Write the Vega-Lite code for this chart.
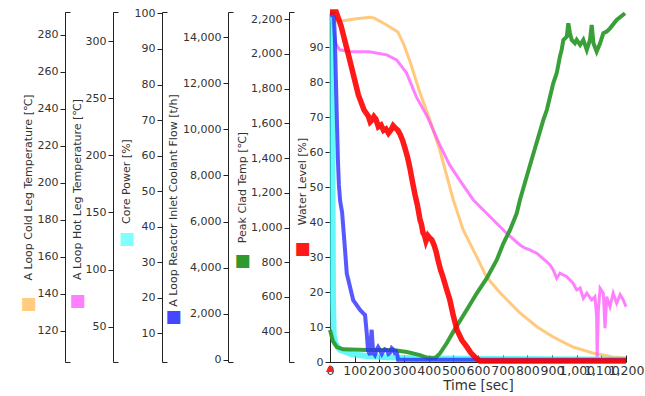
{
  "$schema": "https://vega.github.io/schema/vega-lite/v6.json",
  "width": 296,
  "height": 350,
  "autosize": {"type": "none"},
  "padding": {"left": 330, "top": 12, "right": 19, "bottom": 34},
  "background": "white",
  "config": {
    "font": "DejaVu Sans",
    "view": {"stroke": null},
    "axis": {
      "labelFont": "DejaVu Sans", "titleFont": "DejaVu Sans",
      "labelFontSize": 11, "titleFontSize": 11, "titleFontWeight": "normal",
      "labelColor": "#333", "titleColor": "#333",
      "domainColor": "#222", "tickColor": "#222",
      "grid": false, "tickSize": 5, "labelPadding": 2
    }
  },
  "datasets": {
    "cold": [
      {"t": 0, "v": 291}, {"t": 10, "v": 290.5}, {"t": 30, "v": 287.5}, {"t": 60, "v": 287.8},
      {"t": 100, "v": 288.6}, {"t": 160, "v": 289.5}, {"t": 180, "v": 289.1}, {"t": 230, "v": 285.4},
      {"t": 275, "v": 281.6}, {"t": 300, "v": 274.6}, {"t": 325, "v": 265.4}, {"t": 365, "v": 248.6},
      {"t": 405, "v": 234}, {"t": 445, "v": 217.8}, {"t": 500, "v": 190.8}, {"t": 540, "v": 174.6},
      {"t": 595, "v": 160}, {"t": 635, "v": 149.1}, {"t": 690, "v": 140.5}, {"t": 770, "v": 129.7},
      {"t": 840, "v": 122.1}, {"t": 905, "v": 116.7}, {"t": 985, "v": 111.3}, {"t": 1065, "v": 108.1},
      {"t": 1145, "v": 105.9}, {"t": 1200, "v": 105.4}
    ],
    "hot": [
      {"t": 0, "v": 320}, {"t": 8, "v": 318}, {"t": 25, "v": 297}, {"t": 40, "v": 292.3},
      {"t": 80, "v": 290.6}, {"t": 160, "v": 290.6}, {"t": 230, "v": 287.9}, {"t": 270, "v": 283.5},
      {"t": 310, "v": 272.2}, {"t": 350, "v": 251.1}, {"t": 395, "v": 233.6}, {"t": 445, "v": 209.1},
      {"t": 485, "v": 191.6}, {"t": 525, "v": 178.5}, {"t": 581, "v": 160.9}, {"t": 662, "v": 143.4},
      {"t": 716, "v": 131.8}, {"t": 770, "v": 121.5}, {"t": 791, "v": 118.7}, {"t": 804, "v": 117.8},
      {"t": 838, "v": 114.3}, {"t": 878, "v": 106.9}, {"t": 892, "v": 104}, {"t": 905, "v": 99.7},
      {"t": 919, "v": 92.4}, {"t": 932, "v": 96.8}, {"t": 960, "v": 93.8}, {"t": 986, "v": 88},
      {"t": 1000, "v": 82.1}, {"t": 1014, "v": 83.9}, {"t": 1027, "v": 74.9}, {"t": 1041, "v": 79.3},
      {"t": 1061, "v": 73.4}, {"t": 1074, "v": 76.3}, {"t": 1081, "v": 58.8}, {"t": 1083, "v": 23.5},
      {"t": 1088, "v": 64.6}, {"t": 1095, "v": 83.6}, {"t": 1108, "v": 79.3}, {"t": 1115, "v": 48.6},
      {"t": 1122, "v": 76.3}, {"t": 1135, "v": 67.5}, {"t": 1148, "v": 79.3}, {"t": 1162, "v": 70.5},
      {"t": 1176, "v": 78}, {"t": 1189, "v": 73.4}, {"t": 1200, "v": 67.5}
    ],
    "core": [
      {"t": 0, "v": 100}, {"t": 8, "v": 100}, {"t": 10, "v": 60}, {"t": 12, "v": 20},
      {"t": 15, "v": 9.5}, {"t": 21, "v": 7.3}, {"t": 40, "v": 5.4}, {"t": 90, "v": 4.1},
      {"t": 150, "v": 3.6}, {"t": 230, "v": 3.3}, {"t": 300, "v": 3.1}, {"t": 450, "v": 2.9},
      {"t": 700, "v": 2.8}, {"t": 1200, "v": 2.6}
    ],
    "flow": [
      {"t": 0, "v": 15000}, {"t": 4, "v": 15000}, {"t": 16, "v": 14900}, {"t": 20, "v": 13900},
      {"t": 24, "v": 12100}, {"t": 28, "v": 10400}, {"t": 32, "v": 8700}, {"t": 36, "v": 7600},
      {"t": 41, "v": 6900}, {"t": 49, "v": 6400}, {"t": 61, "v": 4760}, {"t": 68, "v": 3750},
      {"t": 94, "v": 2590}, {"t": 122, "v": 2160}, {"t": 135, "v": 2015}, {"t": 142, "v": 1940},
      {"t": 149, "v": 1150}, {"t": 154, "v": 420}, {"t": 162, "v": 200}, {"t": 166, "v": 900},
      {"t": 169, "v": 1300}, {"t": 172, "v": 800}, {"t": 175, "v": 300}, {"t": 182, "v": 200},
      {"t": 190, "v": 450}, {"t": 195, "v": 550}, {"t": 203, "v": 400}, {"t": 210, "v": 250},
      {"t": 215, "v": 350}, {"t": 222, "v": 450}, {"t": 231, "v": 400}, {"t": 237, "v": 250},
      {"t": 243, "v": 300}, {"t": 250, "v": 500}, {"t": 255, "v": 450}, {"t": 262, "v": 300},
      {"t": 268, "v": 350}, {"t": 272, "v": 250}, {"t": 276, "v": 0}, {"t": 1200, "v": 0}
    ],
    "clad": [
      {"t": 0, "v": 410}, {"t": 12, "v": 345}, {"t": 28, "v": 311}, {"t": 53, "v": 298},
      {"t": 150, "v": 294}, {"t": 255, "v": 294}, {"t": 312, "v": 283}, {"t": 365, "v": 265},
      {"t": 397, "v": 248}, {"t": 426, "v": 247}, {"t": 446, "v": 275}, {"t": 473, "v": 333},
      {"t": 500, "v": 400}, {"t": 554, "v": 525}, {"t": 595, "v": 621}, {"t": 635, "v": 707},
      {"t": 676, "v": 813}, {"t": 703, "v": 909}, {"t": 730, "v": 986}, {"t": 757, "v": 1082},
      {"t": 770, "v": 1159}, {"t": 811, "v": 1360}, {"t": 865, "v": 1620}, {"t": 879, "v": 1677},
      {"t": 905, "v": 1831}, {"t": 919, "v": 1889}, {"t": 932, "v": 1985}, {"t": 939, "v": 2023},
      {"t": 946, "v": 2081}, {"t": 960, "v": 2100}, {"t": 966, "v": 2177}, {"t": 973, "v": 2120},
      {"t": 980, "v": 2081}, {"t": 993, "v": 2062}, {"t": 1000, "v": 2081}, {"t": 1014, "v": 2052},
      {"t": 1027, "v": 2081}, {"t": 1041, "v": 2023}, {"t": 1054, "v": 2081}, {"t": 1061, "v": 2167},
      {"t": 1068, "v": 2062}, {"t": 1081, "v": 2014}, {"t": 1095, "v": 2062}, {"t": 1108, "v": 2120},
      {"t": 1122, "v": 2129}, {"t": 1135, "v": 2148}, {"t": 1162, "v": 2196}, {"t": 1196, "v": 2235}
    ],
    "water": [
      {"t": 0, "v": 100}, {"t": 25, "v": 100}, {"t": 45, "v": 96}, {"t": 80, "v": 86.3},
      {"t": 115, "v": 76.3}, {"t": 138, "v": 72}, {"t": 155, "v": 70.3}, {"t": 163, "v": 68.6},
      {"t": 170, "v": 69.1}, {"t": 178, "v": 70.1}, {"t": 186, "v": 69.4}, {"t": 196, "v": 67.2},
      {"t": 207, "v": 67.7}, {"t": 217, "v": 66.2}, {"t": 227, "v": 66.6}, {"t": 237, "v": 65.4},
      {"t": 247, "v": 66.3}, {"t": 256, "v": 67.5}, {"t": 264, "v": 66.9}, {"t": 275, "v": 66.2},
      {"t": 284, "v": 65.1}, {"t": 294, "v": 63.4}, {"t": 304, "v": 61.1}, {"t": 314, "v": 58.6},
      {"t": 324, "v": 55.4}, {"t": 335, "v": 51.2}, {"t": 345, "v": 47.7}, {"t": 355, "v": 44.6},
      {"t": 365, "v": 40.6}, {"t": 371, "v": 39.3}, {"t": 377, "v": 36.9}, {"t": 383, "v": 36.2},
      {"t": 389, "v": 34.6}, {"t": 397, "v": 36.1}, {"t": 405, "v": 35.4}, {"t": 413, "v": 34.9},
      {"t": 422, "v": 33.4}, {"t": 430, "v": 31.6}, {"t": 438, "v": 29.1}, {"t": 448, "v": 26.4},
      {"t": 458, "v": 24.3}, {"t": 472, "v": 20.9}, {"t": 486, "v": 17.7}, {"t": 500, "v": 13.2},
      {"t": 515, "v": 9.1}, {"t": 535, "v": 6.2}, {"t": 555, "v": 4.3}, {"t": 570, "v": 2.7},
      {"t": 588, "v": 1.4}, {"t": 608, "v": 0.3}, {"t": 1200, "v": 0.3}
    ],
    "marker": [{"t": 0, "v": -1.8}]
  },
  "encoding": {
    "x": {
      "field": "t", "type": "quantitative",
      "scale": {"domain": [0, 1200], "nice": false},
      "axis": {
        "title": "Time [sec]", "values": [0, 100, 200, 300, 400, 500, 600, 700, 800, 900, 1000, 1100, 1200],
        "format": ",.0f", "labelOverlap": false, "labelFlush": false,
        "tickSize": -7, "labelPadding": 9, "labelFontSize": 12.5, "titleFontSize": 13.5, "titlePadding": 2
      }
    }
  },
  "layer": [
    {
      "data": {"name": "cold"},
      "mark": {"type": "line", "color": "#FFB347", "opacity": 0.7, "strokeWidth": 3},
      "encoding": {"y": {"field": "v", "type": "quantitative", "scale": {"domain": [103.2, 292.4], "nice": false, "zero": false},
        "axis": {"orient": "left", "offset": 265, "values": [120, 140, 160, 180, 200, 220, 240, 260, 280],
          "title": "A Loop Cold Leg Temperature [℃]", "titleX": -37, "titleY": 175, "titleAngle": 270, "titleBaseline": "middle", "titleAlign": "center"}}}
    },
    {
      "data": {"name": "cold"},
      "mark": {"type": "line", "opacity": 0},
      "encoding": {"y": {"field": "v", "type": "quantitative", "scale": {"domain": [103.2, 292.4], "nice": false, "zero": false},
        "axis": {"orient": "left", "offset": 265, "domain": false, "labels": false, "values": [103.2, 292.4], "tickSize": -5,
          "title": "■", "titleColor": "#FFCC80", "titleFontSize": 17, "titleX": -37, "titleY": 291, "titleAngle": 0, "titleBaseline": "middle", "titleAlign": "center"}}}
    },
    {
      "data": {"name": "hot"},
      "mark": {"type": "line", "color": "#FF55FF", "opacity": 0.75, "strokeWidth": 3},
      "encoding": {"y": {"field": "v", "type": "quantitative", "scale": {"domain": [19.1, 325.4], "nice": false, "zero": false},
        "axis": {"orient": "left", "offset": 217, "values": [50, 100, 150, 200, 250, 300],
          "title": "A Loop Hot Leg Temperature [℃]", "titleX": -36, "titleY": 177, "titleAngle": 270, "titleBaseline": "middle", "titleAlign": "center"}}}
    },
    {
      "data": {"name": "hot"},
      "mark": {"type": "line", "opacity": 0},
      "encoding": {"y": {"field": "v", "type": "quantitative", "scale": {"domain": [19.1, 325.4], "nice": false, "zero": false},
        "axis": {"orient": "left", "offset": 217, "domain": false, "labels": false, "values": [19.1, 325.4], "tickSize": -5,
          "title": "■", "titleColor": "#FF80FF", "titleFontSize": 17, "titleX": -36, "titleY": 288, "titleAngle": 0, "titleBaseline": "middle", "titleAlign": "center"}}}
    },
    {
      "data": {"name": "core"},
      "mark": {"type": "line", "color": "#33F5F5", "opacity": 0.75, "strokeWidth": 6},
      "encoding": {"y": {"field": "v", "type": "quantitative", "scale": {"domain": [1.94, 100.4], "nice": false, "zero": false},
        "axis": {"orient": "left", "offset": 168, "values": [10, 20, 30, 40, 50, 60, 70, 80, 90, 100],
          "title": "Core Power [%]", "titleX": -36, "titleY": 169, "titleAngle": 270, "titleBaseline": "middle", "titleAlign": "center"}}}
    },
    {
      "data": {"name": "core"},
      "mark": {"type": "line", "opacity": 0},
      "encoding": {"y": {"field": "v", "type": "quantitative", "scale": {"domain": [1.94, 100.4], "nice": false, "zero": false},
        "axis": {"orient": "left", "offset": 168, "domain": false, "labels": false, "values": [1.94, 100.4], "tickSize": -5,
          "title": "■", "titleColor": "#80FFFF", "titleFontSize": 17, "titleX": -36, "titleY": 226, "titleAngle": 0, "titleBaseline": "middle", "titleAlign": "center"}}}
    },
    {
      "data": {"name": "clad"},
      "mark": {"type": "line", "color": "#2E9B2E", "opacity": 0.95, "strokeWidth": 4},
      "encoding": {"y": {"field": "v", "type": "quantitative", "scale": {"domain": [225, 2242], "nice": false, "zero": false},
        "axis": {"orient": "left", "offset": 41, "format": ",.0f", "values": [400, 600, 800, 1000, 1200, 1400, 1600, 1800, 2000, 2200],
          "title": "Peak Clad Temp [℃]", "titleX": -47, "titleY": 175, "titleAngle": 270, "titleBaseline": "middle", "titleAlign": "center"}}}
    },
    {
      "data": {"name": "clad"},
      "mark": {"type": "line", "opacity": 0},
      "encoding": {"y": {"field": "v", "type": "quantitative", "scale": {"domain": [225, 2242], "nice": false, "zero": false},
        "axis": {"orient": "left", "offset": 41, "domain": false, "labels": false, "values": [225, 2242], "tickSize": -5,
          "title": "■", "titleColor": "#2E992E", "titleFontSize": 17, "titleX": -47, "titleY": 248, "titleAngle": 0, "titleBaseline": "middle", "titleAlign": "center"}}}
    },
    {
      "data": {"name": "flow"},
      "mark": {"type": "line", "color": "#2E2EFF", "opacity": 0.8, "strokeWidth": 4},
      "encoding": {"y": {"field": "v", "type": "quantitative", "scale": {"domain": [-100, 15100], "nice": false, "zero": false},
        "axis": {"orient": "left", "offset": 102, "format": ",.0f", "values": [0, 2000, 4000, 6000, 8000, 10000, 12000, 14000],
          "title": "A Loop Reactor Inlet Coolant Flow [t/h]", "titleX": -55, "titleY": 188, "titleAngle": 270, "titleBaseline": "middle", "titleAlign": "center"}}}
    },
    {
      "data": {"name": "flow"},
      "mark": {"type": "line", "opacity": 0},
      "encoding": {"y": {"field": "v", "type": "quantitative", "scale": {"domain": [-100, 15100], "nice": false, "zero": false},
        "axis": {"orient": "left", "offset": 102, "domain": false, "labels": false, "values": [-100, 15100], "tickSize": -5,
          "title": "■", "titleColor": "#4646FF", "titleFontSize": 17, "titleX": -55, "titleY": 304, "titleAngle": 0, "titleBaseline": "middle", "titleAlign": "center"}}}
    },
    {
      "data": {"name": "water"},
      "mark": {"type": "line", "color": "#FF0000", "opacity": 0.9, "strokeWidth": 5.5},
      "encoding": {"y": {"field": "v", "type": "quantitative", "scale": {"domain": [0, 100], "nice": false, "zero": false},
        "axis": {"orient": "left", "offset": 0, "values": [0, 10, 20, 30, 40, 50, 60, 70, 80, 90],
          "title": "Water Level [%]", "titleX": -28, "titleY": 169, "titleAngle": 270, "titleBaseline": "middle", "titleAlign": "center"}}}
    },
    {
      "data": {"name": "water"},
      "mark": {"type": "line", "opacity": 0},
      "encoding": {"y": {"field": "v", "type": "quantitative", "scale": {"domain": [0, 100], "nice": false, "zero": false},
        "axis": {"orient": "left", "offset": 0, "domain": false, "labels": false, "values": [0, 100], "tickSize": -5,
          "title": "■", "titleColor": "#FF1A1A", "titleFontSize": 17, "titleX": -28, "titleY": 236, "titleAngle": 0, "titleBaseline": "middle", "titleAlign": "center"}}}
    },
    {
      "data": {"name": "marker"},
      "mark": {"type": "point", "shape": "triangle-up", "filled": true, "color": "#FF2020", "opacity": 1, "size": 70},
      "encoding": {"y": {"field": "v", "type": "quantitative", "scale": {"domain": [0, 100], "nice": false, "zero": false}, "axis": null}}
    }
  ],
  "resolve": {"scale": {"y": "independent"}, "axis": {"y": "independent"}}
}
